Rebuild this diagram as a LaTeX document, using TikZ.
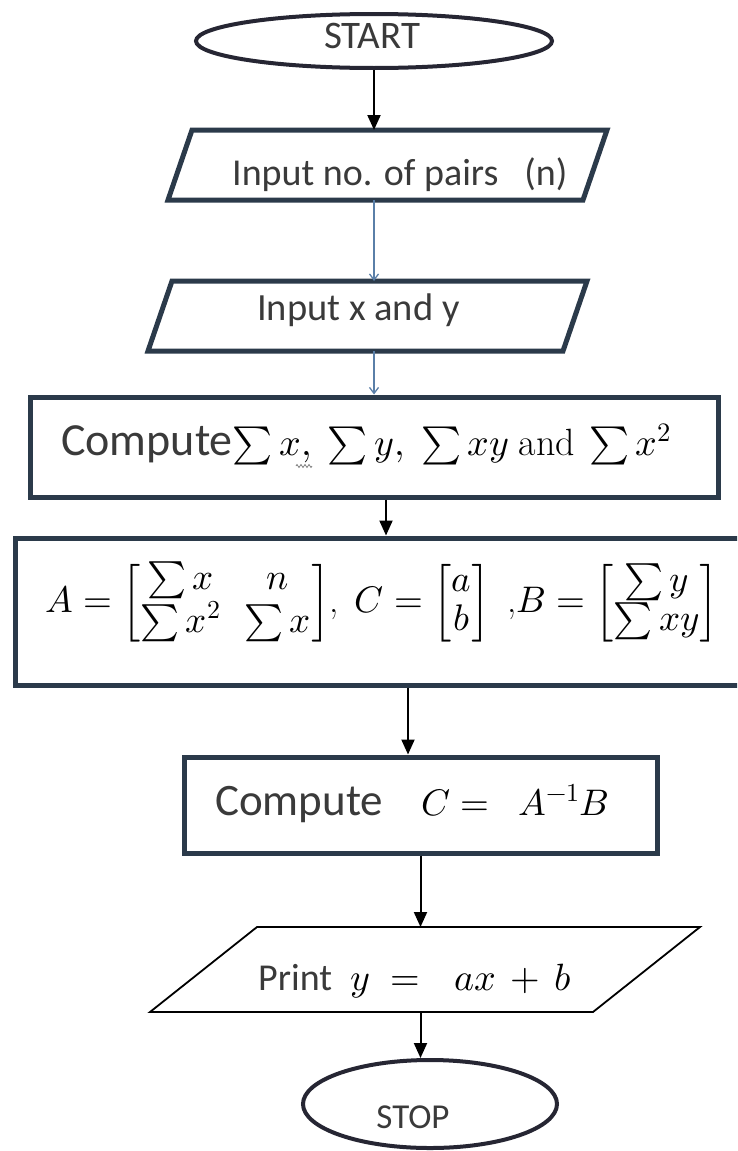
\documentclass[tikz,border=0pt]{standalone}
\usepackage{amsmath}
\usepackage{unicode-math}
\setmathfont{Latin Modern Math}
\newfontfamily\calib{Carlito}
\usetikzlibrary{shapes.geometric,arrows.meta,decorations.pathmorphing}
\definecolor{bord}{HTML}{2B3A4A}
\definecolor{ellc}{HTML}{262633}
\definecolor{blarr}{HTML}{5A7FA8}
\definecolor{txt}{HTML}{3A3A3A}
\newcommand\fsz[1]{\fontsize{#1}{#1}\selectfont}
\begin{document}
\begin{tikzpicture}[x=1pt,y=-1pt,
  box/.style={draw=bord,line width=5pt,inner sep=0pt},
  frame/.style={inner sep=0pt,outer sep=0pt},
  pline/.style={draw=bord,line width=5pt,line join=miter},
  term/.style={ellipse,draw=ellc,line width=4pt,inner sep=0pt},
  lbl/.style={inner sep=0pt,text=txt},
  arr/.style={-{Triangle[width=13pt,length=15pt]},line width=2pt,black},
  barr/.style={-{Straight Barb[width=9pt,length=6pt]},line width=1.3pt,blarr}]
\path[use as bounding box] (0,0) rectangle (737,1151);
\fill[white] (0,0) rectangle (737,1151);
\clip (0,0) rectangle (737,1151);

% shapes
\node[term,minimum width=356pt,minimum height=54pt] (start) at (374,41) {};
\node[frame,minimum width=415pt,minimum height=70pt] (p1) at (387.5,165) {};
\draw[pline] ([xshift=12pt]p1.north west) -- ([xshift=12pt]p1.north east)
  -- ([xshift=-12pt]p1.south east) -- ([xshift=-12pt]p1.south west) -- cycle;
\node[frame,minimum width=415pt,minimum height=70pt] (p2) at (367.5,316) {};
\draw[pline] ([xshift=12pt]p2.north west) -- ([xshift=12pt]p2.north east)
  -- ([xshift=-12pt]p2.south east) -- ([xshift=-12pt]p2.south west) -- cycle;
\node[box,minimum width=688pt,minimum height=100pt] (c1) at (374,447) {};
\node[box,minimum width=760pt,minimum height=147pt] (mat) at (395,611.5) {};
\node[box,minimum width=473pt,minimum height=96pt] (cc) at (420.5,805) {};
\node[frame,minimum width=443pt,minimum height=85pt] (pr) at (425,969.5) {};
\draw[black,line width=1.8pt,line join=miter] ([xshift=53.5pt]pr.north west) -- ([xshift=53.5pt]pr.north east)
  -- ([xshift=-53.5pt]pr.south east) -- ([xshift=-53.5pt]pr.south west) -- cycle;
\node[term,minimum width=254pt,minimum height=88pt] (stop) at (430,1104) {};

% texts
\node[lbl,anchor=base,font=\calib\fsz{39}] (tstart) at (372,48) {START};
\node[lbl,anchor=base west,font=\calib\fsz{38}] (tp1) at (232,185) {Input no. of pairs\hspace*{26pt}(n)};
\node[lbl,anchor=base west,font=\calib\fsz{38.5}] (tp2) at (257,320) {Input x and y};
\node[inner sep=0pt,anchor=base west] (tc1) at (61,455)
  {{\calib\fsz{46}\color{txt}Compute}{\fsz{38}$\sum x,\hspace{10pt}\sum y,\hspace{10pt}\sum xy\hspace{10pt}\mathrm{and}\hspace{8pt}\sum x^2$}};
\draw[gray,line width=0.8pt,decorate,decoration={zigzag,amplitude=1.5pt,segment length=4pt}]
  (296,466) -- (312,466);
\node[inner sep=0pt,anchor=west] (tmat) at (45,603)
  {\fsz{37}\renewcommand\arraystretch{1.05}\setlength\arraycolsep{12pt}%
   $A = \begin{bmatrix}\sum x & n\\ \sum x^2 & \sum x\end{bmatrix}$,\hspace{16pt}%
   $C = \begin{bmatrix}a\\ b\end{bmatrix}$\hspace{18pt},$B = \begin{bmatrix}\sum y\\ \sum xy\end{bmatrix}$};
\node[inner sep=0pt,anchor=base west] (tcc) at (215,815)
  {{\calib\fsz{45}\color{txt}Compute}\hspace*{38pt}{\fsz{37}$C = \hspace{19pt}A^{-1}B$}};
\node[inner sep=0pt,anchor=base west] (tpr) at (258,990)
  {{\calib\fsz{38}\color{txt}Print}\hspace*{18pt}{\fsz{38}$y\hspace{10pt} = \hspace{24pt}ax\hspace{6pt} + \hspace{6pt}b$}};
\node[lbl,anchor=base,font=\calib\fsz{35}] (tstop) at (413,1128) {STOP};

% connectors
\coordinate (k4) at (386,0);
\coordinate (k5) at (408,0);
\draw[arr] (start.south) -- (start.south |- p1.north);
\draw[barr] (p1.south -| start) -- (p2.north -| start);
\draw[barr] (p2.south -| c1) -- (c1.north);
\draw[arr] (c1.south -| k4) -- (mat.north -| k4);
\draw[arr] (mat.south -| k5) -- (cc.north -| k5);
\draw[arr] (cc.south) -- (cc.south |- pr.north);
\draw[arr] (pr.south -| cc) -- (stop.north -| cc);
\end{tikzpicture}
\end{document}
